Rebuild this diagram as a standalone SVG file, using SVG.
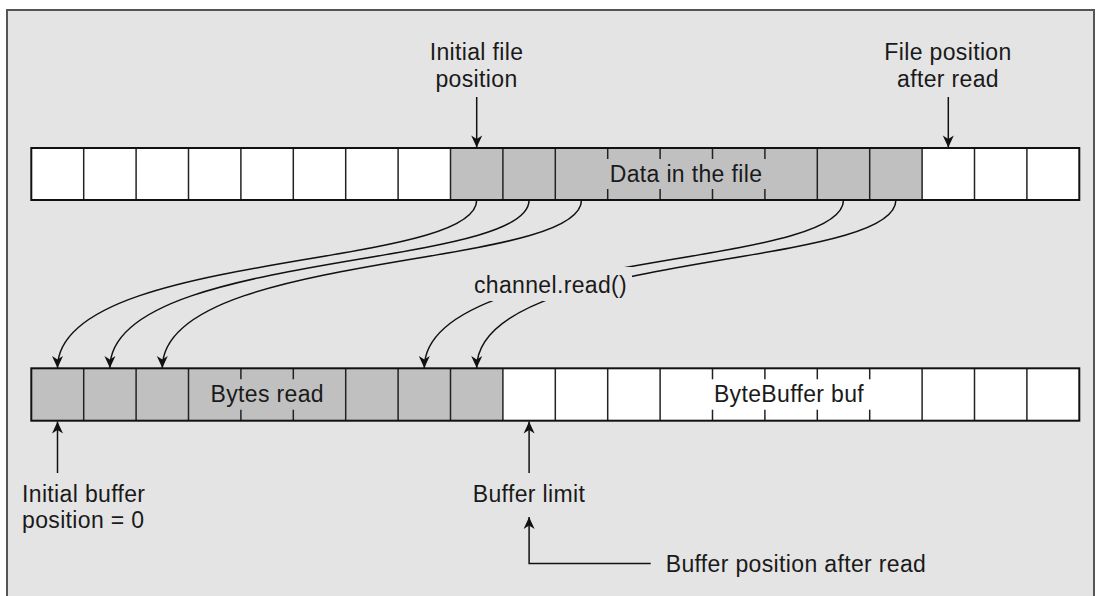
<svg xmlns="http://www.w3.org/2000/svg" width="1097" height="596" viewBox="0 0 1097 596">
<style>
.frame{fill:#e4e4e4;stroke:#555;stroke-width:2}
.cellw{fill:#fff}
.cellg{fill:#c0c0c0}
.outline{fill:none;stroke:#111;stroke-width:2}
.div{stroke:#222;stroke-width:1.5}
.lbl{font-family:"Liberation Sans",Arial,sans-serif;font-size:23px;letter-spacing:0.35px;fill:#1a1a1a}
.mid{text-anchor:middle}
.conn{fill:none;stroke:#111;stroke-width:1.5}
</style>
<defs>
<marker id="ah" viewBox="-13 -6 14 12" markerWidth="14" markerHeight="12" refX="0" refY="0" markerUnits="userSpaceOnUse" orient="auto">
<path d="M0,0 L-12,-5.5 L-8.5,0 L-12,5.5 Z" fill="#111"/>
</marker>
<mask id="gap" maskUnits="userSpaceOnUse" x="0" y="0" width="1097" height="596">
<rect x="0" y="0" width="1097" height="596" fill="#fff"/>
<rect x="465" y="267" width="167" height="34" fill="#000"/>
</mask>
</defs>
<rect class="frame" x="7" y="10" width="1087" height="592"/>

<g id="file-row">
<rect class="cellw" x="31.3" y="148" width="1048" height="52"/>
<rect class="cellg" x="450.5" y="148" width="471.6" height="52"/>
<g class="div">
<line x1="83.7" y1="148" x2="83.7" y2="200"/>
<line x1="136.1" y1="148" x2="136.1" y2="200"/>
<line x1="188.5" y1="148" x2="188.5" y2="200"/>
<line x1="240.9" y1="148" x2="240.9" y2="200"/>
<line x1="293.3" y1="148" x2="293.3" y2="200"/>
<line x1="345.7" y1="148" x2="345.7" y2="200"/>
<line x1="398.1" y1="148" x2="398.1" y2="200"/>
<line x1="450.5" y1="148" x2="450.5" y2="200"/>
<line x1="502.9" y1="148" x2="502.9" y2="200"/>
<line x1="555.3" y1="148" x2="555.3" y2="200"/>
<line x1="607.7" y1="148" x2="607.7" y2="159"/><line x1="607.7" y1="189" x2="607.7" y2="200"/>
<line x1="660.1" y1="148" x2="660.1" y2="159"/><line x1="660.1" y1="189" x2="660.1" y2="200"/>
<line x1="712.5" y1="148" x2="712.5" y2="159"/><line x1="712.5" y1="189" x2="712.5" y2="200"/>
<line x1="764.9" y1="148" x2="764.9" y2="159"/><line x1="764.9" y1="189" x2="764.9" y2="200"/>
<line x1="817.3" y1="148" x2="817.3" y2="200"/>
<line x1="869.7" y1="148" x2="869.7" y2="200"/>
<line x1="922.1" y1="148" x2="922.1" y2="200"/>
<line x1="974.5" y1="148" x2="974.5" y2="200"/>
<line x1="1026.9" y1="148" x2="1026.9" y2="200"/>
</g>
<rect class="outline" x="31.3" y="148" width="1048" height="52"/>
<text class="lbl mid" x="686" y="182">Data in the file</text>
</g>

<g id="buffer-row">
<rect class="cellw" x="31.3" y="368.3" width="1048" height="52.4"/>
<rect class="cellg" x="31.3" y="368.3" width="471.6" height="52.4"/>
<g class="div">
<line x1="83.7" y1="368.3" x2="83.7" y2="420.7"/>
<line x1="136.1" y1="368.3" x2="136.1" y2="420.7"/>
<line x1="188.5" y1="368.3" x2="188.5" y2="420.7"/>
<line x1="240.9" y1="368.3" x2="240.9" y2="379.3"/><line x1="240.9" y1="409.7" x2="240.9" y2="420.7"/>
<line x1="293.3" y1="368.3" x2="293.3" y2="379.3"/><line x1="293.3" y1="409.7" x2="293.3" y2="420.7"/>
<line x1="345.7" y1="368.3" x2="345.7" y2="420.7"/>
<line x1="398.1" y1="368.3" x2="398.1" y2="420.7"/>
<line x1="450.5" y1="368.3" x2="450.5" y2="420.7"/>
<line x1="502.9" y1="368.3" x2="502.9" y2="420.7"/>
<line x1="555.3" y1="368.3" x2="555.3" y2="420.7"/>
<line x1="607.7" y1="368.3" x2="607.7" y2="420.7"/>
<line x1="660.1" y1="368.3" x2="660.1" y2="420.7"/>
<line x1="712.5" y1="368.3" x2="712.5" y2="379.3"/><line x1="712.5" y1="409.7" x2="712.5" y2="420.7"/>
<line x1="764.9" y1="368.3" x2="764.9" y2="379.3"/><line x1="764.9" y1="409.7" x2="764.9" y2="420.7"/>
<line x1="817.3" y1="368.3" x2="817.3" y2="379.3"/><line x1="817.3" y1="409.7" x2="817.3" y2="420.7"/>
<line x1="869.7" y1="368.3" x2="869.7" y2="379.3"/><line x1="869.7" y1="409.7" x2="869.7" y2="420.7"/>
<line x1="922.1" y1="368.3" x2="922.1" y2="420.7"/>
<line x1="974.5" y1="368.3" x2="974.5" y2="420.7"/>
<line x1="1026.9" y1="368.3" x2="1026.9" y2="420.7"/>
</g>
<rect class="outline" x="31.3" y="368.3" width="1048" height="52.4"/>
<text class="lbl mid" x="267.3" y="402">Bytes read</text>
<text class="lbl mid" x="789" y="402">ByteBuffer buf</text>
</g>

<g id="label-initial-file-position">
<text class="lbl mid" x="476.5" y="60">Initial file</text>
<text class="lbl mid" x="476.5" y="87">position</text>
</g>
<g id="label-file-position-after-read">
<text class="lbl mid" x="948" y="60">File position</text>
<text class="lbl mid" x="948" y="87">after read</text>
</g>
<g id="label-channel-read">
<text class="lbl mid" x="550.5" y="293">channel.read()</text>
</g>
<g id="label-initial-buffer-position">
<text class="lbl" x="22" y="501.7">Initial buffer</text>
<text class="lbl" x="22" y="528">position = 0</text>
</g>
<g id="label-buffer-limit">
<text class="lbl mid" x="529" y="501.7">Buffer limit</text>
</g>
<g id="label-buffer-position-after-read">
<text class="lbl" x="665.7" y="571.5">Buffer position after read</text>
</g>

<g id="connectors">
<line class="conn" x1="476.7" y1="97" x2="476.7" y2="147.5" marker-end="url(#ah)"/>
<line class="conn" x1="948.3" y1="97" x2="948.3" y2="147.5" marker-end="url(#ah)"/>
<g mask="url(#gap)">
<path class="conn" d="M476.7,200 C476.7,270 57.5,250 57.5,368" marker-end="url(#ah)"/>
<path class="conn" d="M529.1,200 C529.1,270 109.9,250 109.9,368" marker-end="url(#ah)"/>
<path class="conn" d="M581.5,200 C581.5,270 162.3,250 162.3,368" marker-end="url(#ah)"/>
<path class="conn" d="M843.5,200 C843.5,270 424.3,250 424.3,368" marker-end="url(#ah)"/>
<path class="conn" d="M895.9,200 C895.9,270 476.7,250 476.7,368" marker-end="url(#ah)"/>
</g>
<line class="conn" x1="57.5" y1="473" x2="57.5" y2="421.5" marker-end="url(#ah)"/>
<line class="conn" x1="529.1" y1="473" x2="529.1" y2="421.5" marker-end="url(#ah)"/>
<path class="conn" d="M650.7,563.5 H529.1 V517" marker-end="url(#ah)"/>
</g>
</svg>
